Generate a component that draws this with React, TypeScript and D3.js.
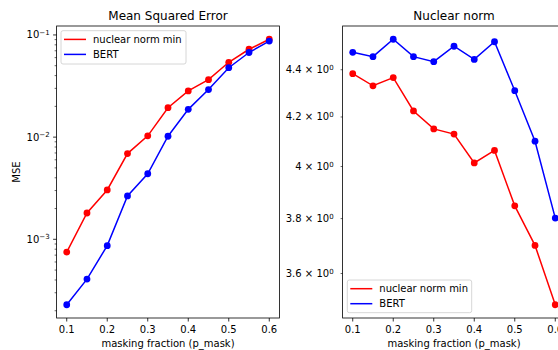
import React from "react";
import * as d3 from "d3";

const pMask = [0.1, 0.15, 0.2, 0.25, 0.3, 0.35, 0.4, 0.45, 0.5, 0.55, 0.6];
const mseNuclear = [7.5e-4, 1.81e-3, 3.04e-3, 6.9e-3, 1.03e-2, 1.94e-2, 2.83e-2, 3.65e-2, 5.4e-2, 7.24e-2, 9.07e-2];
const mseBert = [2.29e-4, 4.08e-4, 8.67e-4, 2.66e-3, 4.38e-3, 1.02e-2, 1.87e-2, 2.92e-2, 4.78e-2, 6.73e-2, 8.7e-2];
const nnNuclear = [4.383, 4.331, 4.366, 4.225, 4.151, 4.13, 4.014, 4.064, 3.848, 3.701, 3.491];
const nnBert = [4.476, 4.457, 4.534, 4.457, 4.435, 4.503, 4.445, 4.523, 4.31, 4.101, 3.802];
const xTicks = [0.1, 0.2, 0.3, 0.4, 0.5, 0.6];
const nnTicks = [3.6, 3.8, 4.0, 4.2, 4.4];
const seriesNames = ["nuclear norm min", "BERT"];
const RED = "#ff0000";
const BLUE = "#0000ff";
const FONT = "DejaVu Sans, sans-serif";

const W = 558, H = 350;
const top = 26, bottom = 318;

function logDomain(vals: number[]): [number, number] {
  const lo = Math.log10(d3.min(vals)!), hi = Math.log10(d3.max(vals)!);
  const m = (hi - lo) * 0.05;
  return [Math.pow(10, lo - m), Math.pow(10, hi + m)];
}

function Series({ xs, ys, x, y, color }: any) {
  const line = d3.line<number>().x((_, i) => x(xs[i])).y((v) => y(v));
  return (
    <g>
      <path d={line(ys) || ""} fill="none" stroke={color} strokeWidth={1.5} />
      {ys.map((v: number, i: number) => (
        <circle key={i} cx={x(xs[i])} cy={y(v)} r={3.4} fill={color} />
      ))}
    </g>
  );
}

function Legend({ x0, y0, w, h }: any) {
  const colors = [RED, BLUE];
  return (
    <g>
      <rect x={x0} y={y0} width={w} height={h} rx={2} fill="white" fillOpacity={0.8} stroke="#cccccc" strokeWidth={0.8} />
      {seriesNames.map((n, i) => (
        <g key={n}>
          <line x1={x0 + 3} x2={x0 + 25} y1={y0 + 8.7 + i * 15} y2={y0 + 8.7 + i * 15} stroke={colors[i]} strokeWidth={1.5} />
          <text x={x0 + 32} y={y0 + 8.7 + i * 15} dy="0.35em" fontSize={10} fontFamily={FONT} fill="#000">{n}</text>
        </g>
      ))}
    </g>
  );
}

function XAxis({ x, left, right }: any) {
  return (
    <g>
      {xTicks.map((t) => (
        <g key={t} transform={`translate(${x(t)},${bottom})`}>
          <line y2={3.5} stroke="#000" strokeWidth={0.8} />
          <text y={11} dy="0.35em" textAnchor="middle" fontSize={10} fontFamily={FONT} fill="#000">{t.toFixed(1)}</text>
        </g>
      ))}
      <text x={(left + right) / 2} y={343} dy="0.35em" textAnchor="middle" fontSize={10} fontFamily={FONT} fill="#000">masking fraction (p_mask)</text>
    </g>
  );
}

export default function App() {
  // Left panel
  const L1 = 56.6, R1 = 279.4;
  const x1 = d3.scaleLinear().domain([0.075, 0.625]).range([L1, R1]);
  const y1 = d3.scaleLog().domain(logDomain([...mseNuclear, ...mseBert])).range([bottom, top]);
  const [d1lo, d1hi] = y1.domain();
  const majors1: number[] = [];
  const minors1: number[] = [];
  for (let e = Math.floor(Math.log10(d1lo)); e <= Math.ceil(Math.log10(d1hi)); e++) {
    const b = Math.pow(10, e);
    if (b >= d1lo && b <= d1hi) majors1.push(e);
    for (let k = 2; k <= 9; k++) {
      const v = k * b;
      if (v >= d1lo && v <= d1hi) minors1.push(v);
    }
  }

  // Right panel
  const L2 = 342.6, R2 = 565.4;
  const x2 = d3.scaleLinear().domain([0.075, 0.625]).range([L2, R2]);
  const y2 = d3.scaleLog().domain(logDomain([...nnNuclear, ...nnBert])).range([bottom, top]);

  return (
    <svg width={W} height={H} style={{ position: "absolute", left: 0, top: 0, background: "white" }}>
      <rect width={W} height={H} fill="white" />
      <defs>
        <clipPath id="c1"><rect x={L1} y={top} width={R1 - L1} height={bottom - top} /></clipPath>
        <clipPath id="c2"><rect x={L2} y={top} width={R2 - L2} height={bottom - top} /></clipPath>
      </defs>
      {/* Left panel */}
      <text x={(L1 + R1) / 2} y={20} textAnchor="middle" fontSize={12} fontFamily={FONT} fill="#000">Mean Squared Error</text>
      <g clipPath="url(#c1)">
        <Series xs={pMask} ys={mseNuclear} x={x1} y={y1} color={RED} />
        <Series xs={pMask} ys={mseBert} x={x1} y={y1} color={BLUE} />
      </g>
      <rect x={L1} y={top} width={R1 - L1} height={bottom - top} fill="none" stroke="#000" strokeWidth={0.8} />
      {minors1.map((v) => (
        <line key={v} x1={L1} x2={L1 - 2} y1={y1(v)} y2={y1(v)} stroke="#000" strokeWidth={0.6} />
      ))}
      {majors1.map((e) => (
        <g key={e} transform={`translate(${L1},${y1(Math.pow(10, e))})`}>
          <line x2={-3.5} stroke="#000" strokeWidth={0.8} />
          <text x={-7} dy="0.35em" textAnchor="end" fontSize={10} fontFamily={FONT} fill="#000">
            10<tspan fontSize={7} dy="-0.5em">{"\u2212" + Math.abs(e)}</tspan>
          </text>
        </g>
      ))}
      <text transform={`translate(16,${(top + bottom) / 2}) rotate(-90)`} textAnchor="middle" dy="0.35em" fontSize={10} fontFamily={FONT} fill="#000">MSE</text>
      <XAxis x={x1} left={L1} right={R1} />
      <Legend x0={61} y0={30.7} w={125} h={33.3} />

      {/* Right panel */}
      <text x={(L2 + R2) / 2} y={20} textAnchor="middle" fontSize={12} fontFamily={FONT} fill="#000">Nuclear norm</text>
      <g clipPath="url(#c2)">
        <Series xs={pMask} ys={nnNuclear} x={x2} y={y2} color={RED} />
        <Series xs={pMask} ys={nnBert} x={x2} y={y2} color={BLUE} />
      </g>
      <rect x={L2} y={top} width={R2 - L2} height={bottom - top} fill="none" stroke="#000" strokeWidth={0.8} />
      {nnTicks.map((t) => (
        <g key={t} transform={`translate(${L2},${y2(t)})`}>
          <line x2={-2} stroke="#000" strokeWidth={0.6} />
          <text x={-9} dy="0.35em" textAnchor="end" fontSize={10} fontFamily={FONT} fill="#000">
            {(Number.isInteger(t) ? t.toFixed(0) : t.toFixed(1)) + " \u00d7 10"}
            <tspan fontSize={7} dy="-0.5em">0</tspan>
          </text>
        </g>
      ))}
      <XAxis x={x2} left={L2} right={R2} />
      <Legend x0={347.3} y0={280} w={124.4} h={32.7} />
    </svg>
  );
}
